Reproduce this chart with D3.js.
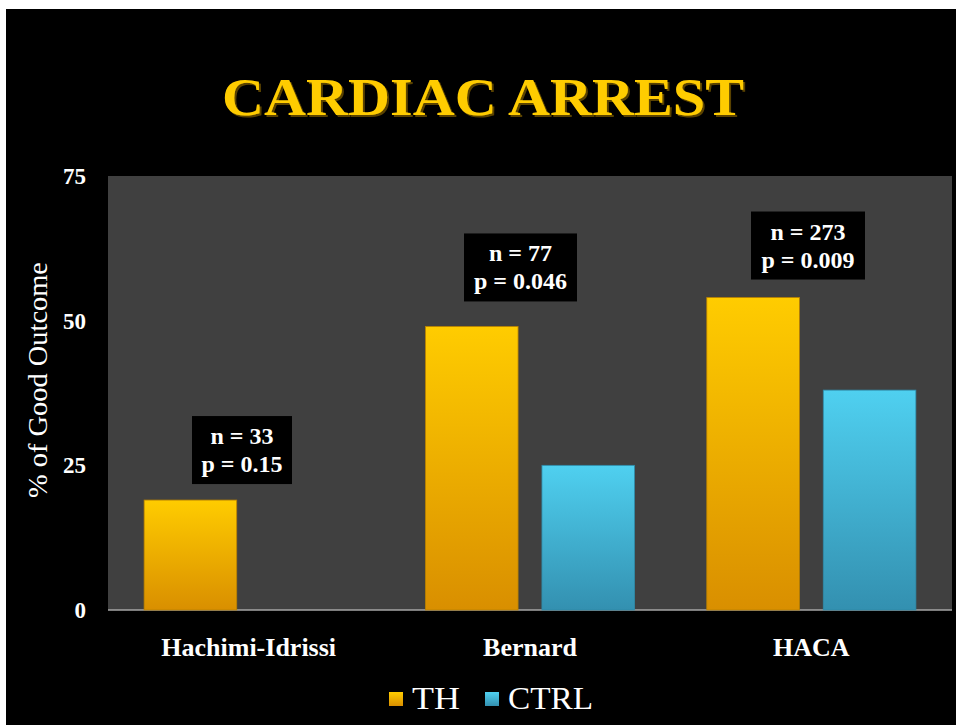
<!DOCTYPE html>
<html>
<head>
<meta charset="utf-8">
<script src="https://cdn.jsdelivr.net/npm/d3@7"></script>
<style>
  html, body { margin: 0; padding: 0; background: #fff; }
  svg { display: block; }
</style>
</head>
<body>
<svg id="chart" width="956" height="725"></svg>
<script>
const studies = ['Hachimi-Idrissi', 'Bernard', 'HACA'];
const seriesNames = ['TH', 'CTRL'];
const thValues = [19, 49, 54];
const ctrlValues = [null, 25, 38];
const nLabels = ['n = 33', 'n = 77', 'n = 273'];
const pLabels = ['p = 0.15', 'p = 0.046', 'p = 0.009'];
const yTicks = [0, 25, 50, 75];

const svgW = 956;
const svgH = 725;
const margin = { top: 176, right: 4, bottom: 115, left: 108 };
const width = svgW - margin.left - margin.right;
const height = svgH - margin.top - margin.bottom;
const serif = "'Liberation Serif', 'DejaVu Serif', serif";

const svg = d3.select('#chart');

// black slide with thin white edge top / left
svg.append('rect').attr('x', 6).attr('y', 9).attr('width', svgW - 6).attr('height', svgH - 9).attr('fill', '#000');

const defs = svg.append('defs');
const gradTH = defs.append('linearGradient').attr('id', 'gTH').attr('x1', 0).attr('x2', 0).attr('y1', 0).attr('y2', 1);
gradTH.append('stop').attr('offset', '0%').attr('stop-color', '#ffcc00');
gradTH.append('stop').attr('offset', '100%').attr('stop-color', '#d98f00');
const gradCT = defs.append('linearGradient').attr('id', 'gCT').attr('x1', 0).attr('x2', 0).attr('y1', 0).attr('y2', 1);
gradCT.append('stop').attr('offset', '0%').attr('stop-color', '#4fd0f0');
gradCT.append('stop').attr('offset', '100%').attr('stop-color', '#3390b0');
const shadow = defs.append('filter').attr('id', 'tshadow').attr('x', '-5%').attr('y', '-20%').attr('width', '110%').attr('height', '140%');
shadow.append('feDropShadow').attr('dx', 2).attr('dy', 2).attr('stdDeviation', 0.6).attr('flood-color', '#5a4300');

// title
svg.append('text')
  .attr('x', 483).attr('y', 115)
  .attr('text-anchor', 'middle')
  .style('font-family', serif).style('font-weight', 'bold').style('font-size', '52px')
  .attr('textLength', 522).attr('lengthAdjust', 'spacingAndGlyphs')
  .attr('fill', '#ffcc00')
  .attr('filter', 'url(#tshadow)')
  .text('CARDIAC ARREST');

const g = svg.append('g').attr('transform', 'translate(' + margin.left + ',' + margin.top + ')');

const x0 = d3.scaleBand().domain(studies).range([0, width]).padding(0);
const x1 = d3.scaleBand().domain(seriesNames).range([0, x0.bandwidth()]).paddingInner(0.205).paddingOuter(0.31);
const y = d3.scaleLinear().domain([0, 75]).range([height, 0]);

g.append('rect').attr('width', width).attr('height', height).attr('fill', '#404040');
g.append('line').attr('x1', 0).attr('x2', width).attr('y1', height).attr('y2', height)
  .attr('stroke', '#a6a6a6').attr('stroke-width', 1.5);

// y axis
const yAxis = g.append('g').call(d3.axisLeft(y).tickValues(yTicks).tickSize(0).tickPadding(22));
yAxis.select('.domain').remove();
yAxis.selectAll('text')
  .attr('fill', '#fff')
  .style('font-family', serif).style('font-weight', 'bold').style('font-size', '23px');

svg.append('text')
  .attr('transform', 'translate(47,' + (margin.top + height / 2 - 13) + ') rotate(-90)')
  .attr('text-anchor', 'middle')
  .style('font-family', serif).style('font-size', '28px')
  .attr('textLength', 236).attr('lengthAdjust', 'spacingAndGlyphs')
  .attr('fill', '#fff')
  .text('% of Good Outcome');

// x axis
const xAxis = g.append('g').attr('transform', 'translate(0,' + height + ')')
  .call(d3.axisBottom(x0).tickSize(0).tickPadding(28));
xAxis.select('.domain').remove();
xAxis.selectAll('text')
  .attr('fill', '#fff')
  .style('font-family', serif).style('font-weight', 'bold').style('font-size', '26px');

// bars
const rows = studies.map((s, i) => ({ study: s, TH: thValues[i], CTRL: ctrlValues[i] }));
const groups = g.selectAll('.study').data(rows).enter().append('g')
  .attr('class', 'study')
  .attr('transform', d => 'translate(' + x0(d.study) + ',0)');

groups.selectAll('rect.bar')
  .data(d => seriesNames.map(k => ({ key: k, value: d[k] })).filter(v => v.value != null))
  .enter().append('rect')
  .attr('class', 'bar')
  .attr('x', d => x1(d.key))
  .attr('width', x1.bandwidth())
  .attr('y', d => y(d.value))
  .attr('height', d => y(0) - y(d.value))
  .attr('fill', d => d.key === 'TH' ? 'url(#gTH)' : 'url(#gCT)')
  .attr('stroke', d => d.key === 'TH' ? '#b98000' : '#2f8aa8')
  .attr('stroke-width', 0.8);

// n / p annotation boxes
const boxW = [100, 113, 114];
const boxCx = [242, 520.5, 808];
const boxGap = [16, 25, 18];
rows.forEach((d, i) => {
  const top = y(d.TH) - boxGap[i] - 68;
  const ann = g.append('g');
  ann.append('rect')
    .attr('x', boxCx[i] - margin.left - boxW[i] / 2).attr('y', top)
    .attr('width', boxW[i]).attr('height', 68)
    .attr('fill', '#000');
  ann.append('text')
    .attr('x', boxCx[i] - margin.left).attr('y', top + 28)
    .attr('text-anchor', 'middle')
    .style('font-family', serif).style('font-weight', 'bold').style('font-size', '24px')
    .attr('fill', '#fff').text(nLabels[i]);
  ann.append('text')
    .attr('x', boxCx[i] - margin.left).attr('y', top + 56)
    .attr('text-anchor', 'middle')
    .style('font-family', serif).style('font-weight', 'bold').style('font-size', '24px')
    .attr('fill', '#fff').text(pLabels[i]);
});

// legend
const legendX = [389, 485];
const legendW = [48, 85];
const legend = svg.selectAll('.legend').data(seriesNames).enter().append('g')
  .attr('class', 'legend')
  .attr('transform', (d, i) => 'translate(' + legendX[i] + ',692)');
legend.append('rect')
  .attr('width', 14).attr('height', 14)
  .attr('fill', d => d === 'TH' ? 'url(#gTH)' : 'url(#gCT)');
legend.append('text')
  .attr('x', 23).attr('y', 17)
  .style('font-family', serif).style('font-size', '31px')
  .attr('textLength', (d, i) => legendW[i]).attr('lengthAdjust', 'spacingAndGlyphs')
  .attr('fill', '#fff')
  .text(d => d);
</script>
</body>
</html>
